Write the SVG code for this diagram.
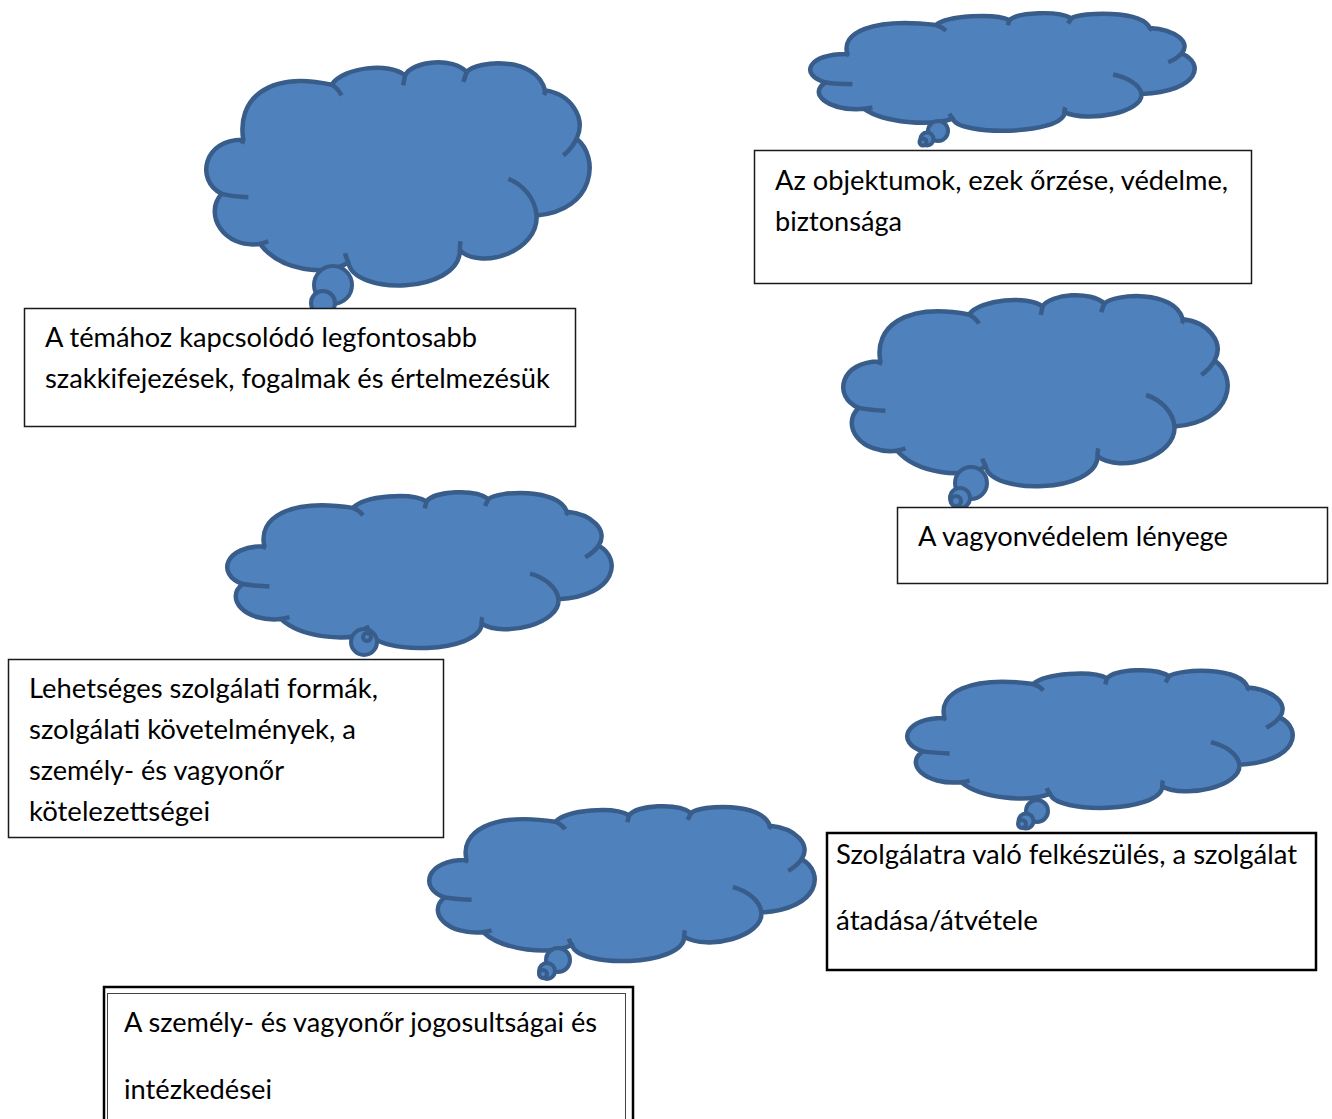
<svg xmlns="http://www.w3.org/2000/svg" xmlns:xlink="http://www.w3.org/1999/xlink" width="1332" height="1119" viewBox="0 0 1332 1119">
<style>
.cl{fill:#4F81BD;stroke:#385D8A;stroke-width:4.5;stroke-linejoin:round;vector-effect:non-scaling-stroke}
.ci{fill:none;stroke:#385D8A;stroke-width:4.5;stroke-linecap:butt;vector-effect:non-scaling-stroke}
.tl{fill:#4F81BD;stroke:#385D8A;stroke-width:4}
.bx{fill:#fff;stroke:#1a1a1a;stroke-width:1.5}
.bxk{fill:#fff;stroke:#000;stroke-width:2.5}
.t{font-family:Lato,"Open Sans","Liberation Sans",sans-serif;font-size:27px;fill:#000}
</style>
<defs>
<path id="cloud" class="cl" d="M130,268 C110,150 200,60 395,103 C430,50 570,35 615,75 C640,30 760,20 800,65 C830,30 1010,15 1035,120 C1110,130 1160,200 1130,265 C1200,320 1185,480 1010,495 C1015,600 850,660 780,600 C775,730 460,735 445,635 C380,680 240,660 180,580 C70,595 10,490 65,430 C-15,390 10,265 130,268 Z"/>
<path id="cloudIn" class="ci" d="M395,103 Q412,112 425,135 M615,75 Q612,90 610,105 M800,65 Q795,80 790,95 M1035,120 Q1036,126 1032,134 M1130,265 Q1115,295 1090,315 M925,385 C965,400 1005,440 1010,495 M780,600 Q779,585 782,572 M445,635 Q438,620 435,608 M180,580 Q192,577 205,572 M65,430 Q100,438 145,440 M130,268 Q128,274 126,280"/>
</defs>

<g id="connectors"></g>

<g id="cloud1">
<g transform="translate(206,62) scale(0.3333,0.3338) translate(-18,-35)"><use href="#cloud"/><use href="#cloudIn"/></g>
<circle class="tl" cx="333" cy="285" r="19"/>
<circle class="tl" cx="323" cy="303" r="12"/>
</g>

<g id="cloud2">
<g transform="translate(810,13) scale(0.3342,0.1759) translate(-18,-35)"><use href="#cloud"/><use href="#cloudIn"/></g>
<circle class="tl" cx="938" cy="131" r="10"/>
<circle class="tl" cx="927" cy="139" r="6.5"/>
<circle class="tl" cx="923" cy="142" r="3.5"/>
</g>

<g id="cloud3">
<g transform="translate(843,295) scale(0.3342,0.2857) translate(-18,-35)"><use href="#cloud"/><use href="#cloudIn"/></g>
<circle class="tl" cx="971" cy="483" r="16"/>
<circle class="tl" cx="960" cy="498" r="10"/>
<circle class="tl" cx="956" cy="501" r="5"/>
</g>

<g id="cloud4">
<g transform="translate(227,492) scale(0.3342,0.2331) translate(-18,-35)"><use href="#cloud"/><use href="#cloudIn"/></g>
<circle class="tl" cx="364" cy="642" r="13"/>
<circle class="tl" cx="367" cy="637" r="4"/>
</g>

<g id="cloud5">
<g transform="translate(907,670) scale(0.3351,0.2060) translate(-18,-35)"><use href="#cloud"/><use href="#cloudIn"/></g>
<circle class="tl" cx="1037" cy="811" r="11"/>
<circle class="tl" cx="1026" cy="821" r="7.5"/>
<circle class="tl" cx="1022" cy="824" r="4"/>
</g>

<g id="cloud6">
<g transform="translate(429,806) scale(0.3351,0.2316) translate(-18,-35)"><use href="#cloud"/><use href="#cloudIn"/></g>
<circle class="tl" cx="558" cy="960" r="12"/>
<circle class="tl" cx="547" cy="971" r="8"/>
<circle class="tl" cx="543" cy="974" r="4"/>
</g>

<g id="box1">
<rect class="bx" x="24.5" y="308.5" width="551" height="118"/>
<text class="t" x="45" y="347" textLength="432" lengthAdjust="spacingAndGlyphs">A témához kapcsolódó legfontosabb</text>
<text class="t" x="45" y="388" textLength="505" lengthAdjust="spacingAndGlyphs">szakkifejezések, fogalmak és értelmezésük</text>
</g>

<g id="box2">
<rect class="bx" x="754.5" y="150.5" width="497" height="133"/>
<text class="t" x="775" y="190" textLength="453" lengthAdjust="spacingAndGlyphs">Az objektumok, ezek őrzése, védelme,</text>
<text class="t" x="775" y="231" textLength="127" lengthAdjust="spacingAndGlyphs">biztonsága</text>
</g>

<g id="box3">
<rect class="bx" x="897.5" y="507.5" width="430" height="76"/>
<text class="t" x="918" y="546" textLength="310" lengthAdjust="spacingAndGlyphs">A vagyonvédelem lényege</text>
</g>

<g id="box4">
<rect class="bx" x="8.5" y="659.5" width="435" height="178"/>
<text class="t" x="29" y="698" textLength="349" lengthAdjust="spacingAndGlyphs">Lehetséges szolgálati formák,</text>
<text class="t" x="29" y="739" textLength="327" lengthAdjust="spacingAndGlyphs">szolgálati követelmények, a</text>
<text class="t" x="29" y="780" textLength="255" lengthAdjust="spacingAndGlyphs">személy- és vagyonőr</text>
<text class="t" x="29" y="821" textLength="181" lengthAdjust="spacingAndGlyphs">kötelezettségei</text>
</g>

<g id="box5">
<rect class="bxk" x="827" y="833" width="489" height="137"/>
<text class="t" x="836" y="864" textLength="461" lengthAdjust="spacingAndGlyphs">Szolgálatra való felkészülés, a szolgálat</text>
<text class="t" x="836" y="930" textLength="202" lengthAdjust="spacingAndGlyphs">átadása/átvétele</text>
</g>

<g id="box6">
<rect class="bxk" x="104" y="987" width="529" height="150"/>
<rect fill="none" stroke="#444" stroke-width="1" x="107.5" y="993.5" width="518" height="140"/>
<text class="t" x="124" y="1032" textLength="473" lengthAdjust="spacingAndGlyphs">A személy- és vagyonőr jogosultságai és</text>
<text class="t" x="124" y="1099" textLength="148" lengthAdjust="spacingAndGlyphs">intézkedései</text>
</g>
</svg>
